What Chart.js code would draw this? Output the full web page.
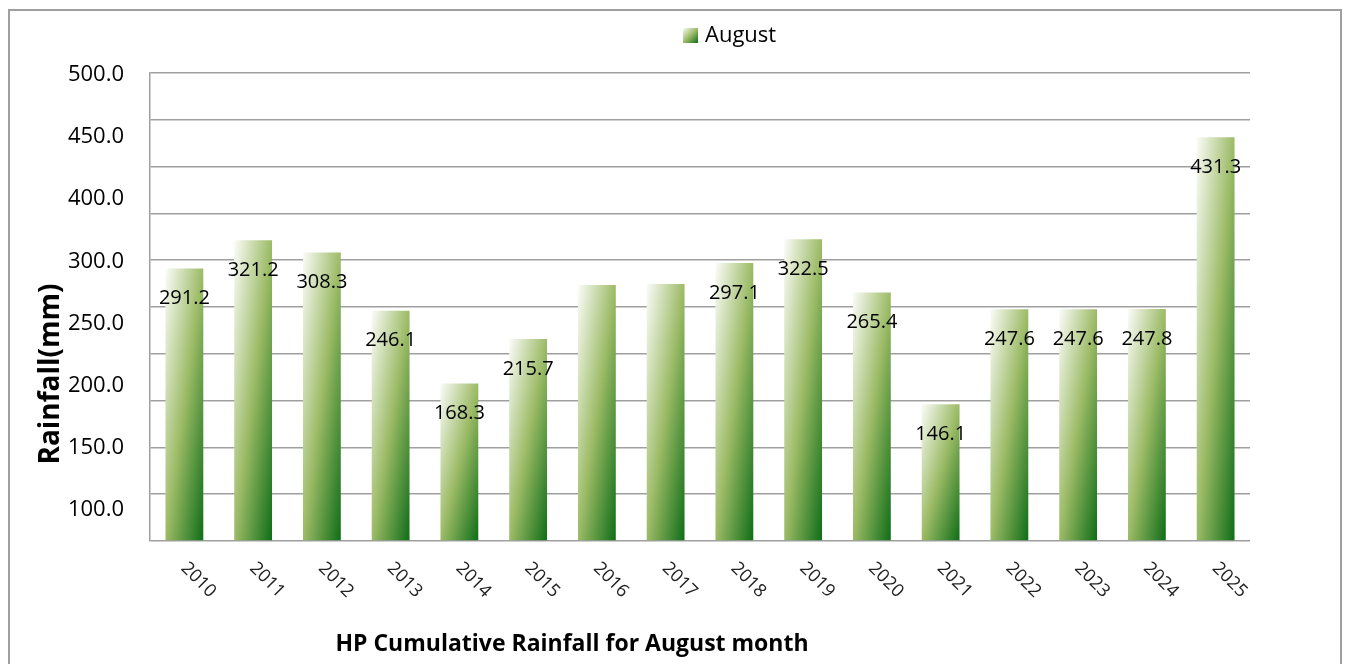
<!DOCTYPE html>
<html><head><meta charset="utf-8">
<script src="https://cdn.jsdelivr.net/npm/chart.js@4.4.1/dist/chart.umd.min.js"></script>
<style>html,body{margin:0;padding:0;background:#fff;overflow:hidden}</style>
</head><body>
<canvas id="c" width="1347" height="664"></canvas>
<script>
const years = ['2010','2011','2012','2013','2014','2015','2016','2017','2018','2019','2020','2021','2022','2023','2024','2025'];
const rainfall = [291.2, 321.2, 308.3, 246.1, 168.3, 215.7, 273.5, 274.6, 297.1, 322.5, 265.4, 146.1, 247.6, 247.6, 247.8, 431.3];
const valueLabels = ['291.2','321.2','308.3','246.1','168.3','215.7','','','297.1','322.5','265.4','146.1','247.6','247.6','247.8','431.3'];
const yTickLabels = ['100.0','150.0','200.0','250.0','300.0','400.0','450.0','500.0'];
const seriesName = 'August';
const chartTitle = 'HP Cumulative Rainfall for August month';
const yTitle = 'Rainfall(mm)';

const GRID = '#9f9f9f';
const FONT = '"Open Sans", "Noto Sans", sans-serif';

function barGradient(ctx2d, left, top, w, h) {
  const d = 2 * w * h / (h * h + w * w);
  const g = ctx2d.createLinearGradient(left, top, left + h * d, top + w * d);
  g.addColorStop(0, '#fbfcf8');
  g.addColorStop(0.5, '#9cbb66');
  g.addColorStop(1, '#0f6d17');
  return g;
}

const decorPlugin = {
  id: 'decor',
  beforeDraw(chart) {
    const c = chart.ctx;
    c.save();
    c.strokeStyle = GRID;
    c.lineWidth = 2;
    c.beginPath();
    c.moveTo(9, 680); c.lineTo(9, 10); c.lineTo(1341, 10); c.lineTo(1341, 680);
    c.stroke();
    c.restore();
  },
  afterDatasetsDraw(chart) {
    const c = chart.ctx;
    const meta = chart.getDatasetMeta(0);
    c.save();
    c.font = '20px ' + FONT;
    c.fillStyle = '#000';
    c.textAlign = 'center';
    c.textBaseline = 'middle';
    meta.data.forEach((bar, i) => {
      const t = valueLabels[i];
      if (t) c.fillText(t, bar.x, bar.y + 30);
    });
    c.restore();
  },
  afterDraw(chart) {
    const c = chart.ctx;
    const xs = chart.scales.x;
    const area = chart.chartArea;
    c.save();
    // x tick labels rotated clockwise
    c.font = '18px ' + FONT;
    c.fillStyle = '#222';
    c.textAlign = 'center';
    c.textBaseline = 'middle';
    years.forEach((y, i) => {
      const x = xs.getPixelForTick(i) + 14;
      c.save();
      c.translate(x, area.bottom + 39);
      c.rotate(Math.PI / 4);
      c.fillText(y, 0, 0);
      c.restore();
    });
    // legend
    const lx = 683, ly = 28;
    c.fillStyle = barGradient(c, lx, ly, 15, 15);
    c.fillRect(lx, ly, 15, 15);
    c.fillStyle = '#000';
    c.font = '22px ' + FONT;
    c.textAlign = 'left';
    c.fillText(seriesName, 705, 36);
    // y title
    c.save();
    c.translate(51, 374);
    c.rotate(-Math.PI / 2);
    c.font = 'bold 28px ' + FONT;
    c.textAlign = 'center';
    c.fillText(yTitle, 0, 0);
    c.restore();
    // bottom title
    c.font = 'bold 23px ' + FONT;
    c.textAlign = 'center';
    c.fillText(chartTitle, 572, 644);
    c.restore();
  }
};

new Chart(document.getElementById('c'), {
  type: 'bar',
  data: {
    labels: years,
    datasets: [{
      label: seriesName,
      data: rainfall,
      categoryPercentage: 1,
      barPercentage: 0.55,
      borderWidth: 0,
      backgroundColor(ctx) {
        const chart = ctx.chart;
        const area = chart.chartArea;
        if (!area || ctx.type !== 'data') return '#9cbb66';
        const xs = chart.scales.x, ys = chart.scales.y;
        const w = area.width / years.length * 0.55;
        const cx = xs.getPixelForValue(ctx.dataIndex);
        const top = ys.getPixelForValue(ctx.raw);
        const base = ys.getPixelForValue(0);
        return barGradient(chart.ctx, cx - w / 2, top, w, base - top);
      }
    }]
  },
  options: {
    responsive: false,
    animation: false,
    devicePixelRatio: 1,
    layout: { padding: { top: 73, left: 0, right: 97, bottom: 0 } },
    plugins: { legend: { display: false }, tooltip: { enabled: false }, title: { display: false } },
    scales: {
      x: {
        grid: { display: false },
        border: { display: false },
        ticks: { display: false },
        afterFit(s) { s.height = 123; }
      },
      y: {
        position: 'left',
        min: 0, max: 500,
        weight: 0,
        ticks: { display: false, stepSize: 50 },
        grid: { color: GRID, lineWidth: 1.5, drawTicks: false },
        border: { display: true, color: GRID, width: 1.5 },
        afterFit(s) { s.width = 0; }
      },
      yLabels: {
        position: 'left',
        weight: 1,
        min: -0.5, max: 7.03,
        grid: { display: false, drawTicks: false },
        border: { display: false },
        afterBuildTicks(s) { s.ticks = yTickLabels.map((_, i) => ({ value: i })); },
        ticks: {
          padding: 26,
          color: '#000',
          font: { family: FONT, size: 22 },
          callback(v) { return yTickLabels[v] ?? ''; }
        },
        afterFit(s) { s.width = 150; }
      }
    }
  },
  plugins: [decorPlugin]
});
</script>
</body></html>
